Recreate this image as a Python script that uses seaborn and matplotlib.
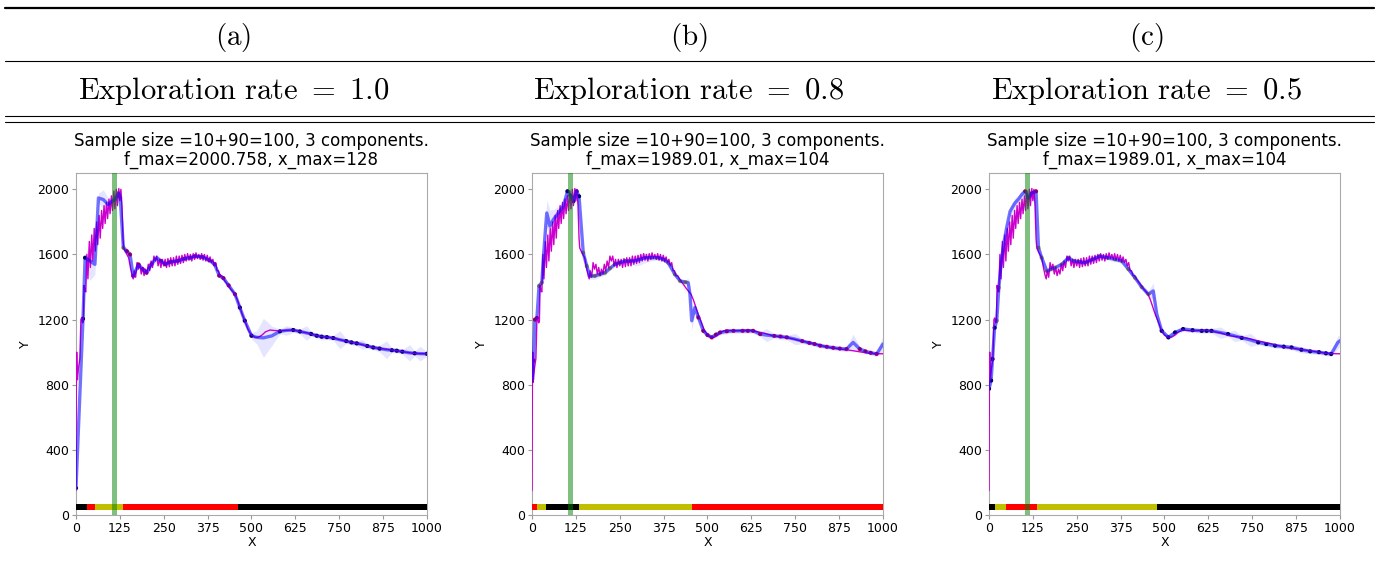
import numpy as np
import pandas as pd
import matplotlib
matplotlib.use("Agg")
import matplotlib.pyplot as plt
import seaborn as sns
from matplotlib.lines import Line2D

# ---------------- data ----------------
# true objective (magenta), shared by the three panels
TRUE_X = [0, 1, 2, 4, 7, 11, 14, 16, 19, 21, 23, 25, 28,
          31, 34, 38, 41, 45, 48, 52, 55, 59, 62, 66, 69, 73, 76, 80, 83, 87, 90,
          94, 97, 101, 104, 108, 111, 115, 118, 122, 125, 128, 131, 134, 136, 140,
          145, 150, 155, 160, 163,
          166, 170, 174, 178, 182, 186, 190, 194, 198, 202, 206, 210, 214, 218, 222,
          226, 230, 234, 238, 242, 246, 250, 254, 258, 262, 266, 270, 274, 278, 282,
          286, 290, 294, 298, 302, 306, 310, 314, 318, 322, 326, 330, 334, 338, 342,
          346, 350, 354, 358, 362, 366, 370, 374, 378, 382, 386, 390, 394, 398, 402,
          406, 410, 415, 420, 430, 440, 453, 460, 467, 474, 481, 490, 500, 510, 520,
          530, 540, 553, 565, 581, 600, 619, 638, 660, 686, 710, 733, 765, 800, 825,
          847, 880, 914, 940, 961, 980, 1000]
TRUE_Y = [150, 800, 1000, 830, 900, 960, 1200, 1210, 1180, 1190, 1410, 1380, 1370,
          1600, 1450, 1680, 1520, 1720, 1560, 1760, 1620, 1800, 1660, 1840, 1700, 1870, 1760, 1900, 1790, 1920, 1820,
          1940, 1850, 1960, 1870, 1990, 1880, 2000, 1900, 2005, 1930, 2000, 1900, 1700, 1640, 1620,
          1600, 1580, 1520, 1470, 1450,
          1500, 1460, 1550, 1510, 1540, 1480, 1520, 1470, 1510, 1480, 1540, 1500, 1560, 1520, 1590,
          1560, 1590, 1530, 1570, 1520, 1570, 1530, 1570, 1520, 1575, 1525, 1580, 1530, 1580, 1530,
          1590, 1540, 1590, 1545, 1595, 1550, 1600, 1560, 1605, 1565, 1600, 1560, 1605, 1570, 1610,
          1575, 1600, 1570, 1605, 1565, 1600, 1560, 1595, 1555, 1585, 1550, 1570, 1530, 1550, 1500,
          1500, 1470, 1470, 1450, 1420, 1390, 1356, 1320, 1274, 1230, 1193, 1140, 1105, 1092, 1092,
          1105, 1125, 1136, 1133, 1131, 1134, 1136, 1127, 1118, 1101, 1094, 1087, 1070, 1054, 1040,
          1029, 1019, 1009, 1000, 993, 991, 990]

# panel (a): GP mean and band half-width
A_X = [0, 20, 26, 40, 54, 64, 78, 92, 102, 111, 121, 126, 135, 145, 154, 163, 178, 190, 201, 215,
       230, 242, 254, 270, 290, 310, 325, 340, 360, 380, 395, 408, 420, 435, 453, 467, 481, 500, 515,
       534, 558, 581, 600, 619, 638, 657, 670, 686, 700, 715, 733, 752, 770, 785, 800, 815, 830, 847,
       865, 885, 900, 914, 930, 951, 965, 980, 1000]
A_Y = [165, 1205, 1580, 1560, 1539, 1947, 1937, 1906, 1927, 1937, 1977, 1950, 1641, 1620, 1600, 1468,
       1539, 1510, 1488, 1540, 1580, 1560, 1540, 1555, 1560, 1575, 1580, 1590, 1585, 1565, 1540, 1470,
       1455, 1410, 1356, 1274, 1193, 1101, 1091, 1088, 1100, 1128, 1134, 1136, 1127, 1118, 1112, 1101,
       1095, 1092, 1087, 1076, 1068, 1060, 1054, 1048, 1038, 1029, 1022, 1015, 1012, 1009, 1003, 996,
       993, 991, 990]
A_SD = [15, 15, 20, 120, 60, 30, 60, 40, 30, 25, 15, 20, 20, 20, 15, 15, 15, 15, 15, 15,
        25, 15, 15, 15, 20, 15, 15, 15, 15, 15, 15, 15, 15, 15, 15, 15, 15, 20, 40,
        120, 60, 15, 30, 15, 15, 45, 15, 15, 20, 15, 15, 55, 15, 15, 15, 30, 15, 15,
        20, 55, 15, 15, 15, 50, 15, 45, 15]

# panel (b)
B_X = [0, 4, 8, 14, 20, 28, 32, 39, 42, 51, 61, 75, 89, 101, 110, 118, 127, 134, 146, 156, 165,
       179, 193, 208, 222, 236, 250, 265, 279, 293, 308, 322, 340, 360, 375, 388, 407, 422, 437,
       445, 450, 455, 464, 474, 488, 500, 512, 524, 536, 555, 574, 600, 615, 630, 650, 668, 690,
       708, 726, 750, 770, 790, 805, 821, 840, 858, 877, 896, 915, 934, 950, 965, 982, 1000]
B_Y = [820, 948, 1200, 1210, 1407, 1427, 1570, 1774, 1855, 1774, 1815, 1855, 1896, 1988, 1960, 1927,
       1988, 1957, 1610, 1529, 1468, 1468, 1478, 1488, 1515, 1539, 1550, 1560, 1560, 1560, 1570, 1580,
       1580, 1580, 1570, 1549, 1478, 1437, 1430, 1427, 1356, 1193, 1274, 1213, 1131, 1105, 1091, 1108,
       1121, 1128, 1131, 1131, 1131, 1131, 1111, 1105, 1100, 1096, 1091, 1080, 1068, 1057, 1050, 1040,
       1033, 1027, 1022, 1019, 1060, 1019, 1005, 996, 989, 1050]
B_SD = [20, 20, 20, 20, 20, 20, 40, 60, 80, 100, 60, 40, 30, 20, 20, 20, 15, 15, 15, 20, 20,
        20, 15, 15, 15, 15, 15, 15, 15, 30, 35, 30, 20, 15, 15, 15, 15, 15, 15,
        25, 45, 60, 30, 15, 15, 15, 15, 15, 15, 15, 15, 15, 15, 15, 15, 40, 15,
        20, 15, 35, 15, 15, 15, 15, 15, 15, 15, 15, 50, 15, 15, 15, 15, 50]

# panel (c)
C_X = [0, 6, 10, 16, 22, 28, 36, 43, 50, 60, 74, 84, 93, 103, 112, 122, 134, 141, 150, 165, 177,
       188, 207, 226, 241, 257, 273, 295, 316, 338, 359, 378, 397, 416, 435, 454, 468, 478, 492,
       511, 530, 553, 580, 606, 620, 634, 660, 681, 700, 720, 745, 767, 790, 815, 840, 862, 890,
       915, 940, 960, 975, 994, 1000]
C_Y = [775, 826, 958, 1150, 1193, 1396, 1580, 1680, 1763, 1865, 1916, 1940, 1967, 1988, 1947, 1977,
       1988, 1641, 1580, 1498, 1510, 1519, 1539, 1580, 1560, 1555, 1549, 1570, 1590, 1580, 1570, 1560,
       1510, 1457, 1400, 1356, 1376, 1234, 1131, 1091, 1121, 1142, 1135, 1131, 1131, 1131, 1120, 1111,
       1100, 1088, 1075, 1060, 1050, 1040, 1034, 1029, 1015, 1005, 1000, 993, 989, 1060, 1070]
C_SD = [20, 20, 20, 20, 20, 20, 25, 30, 30, 30, 30, 25, 25, 20, 20, 15, 15, 20, 20, 15, 15,
        15, 15, 15, 15, 15, 15, 20, 15, 15, 15, 15, 15, 15, 15, 20, 50, 25, 15,
        15, 15, 15, 15, 15, 15, 15, 35, 15, 35, 15, 40, 15, 15, 15, 15, 15, 20,
        15, 15, 15, 15, 40, 30]

# component segments along x (start, end, colour name)
A_SEG = [(0, 31, "black"), (31, 55, "red"), (55, 135, "yellow"), (135, 463, "red"), (463, 1000, "black")]
B_SEG = [(0, 15, "red"), (15, 40, "yellow"), (40, 135, "black"), (135, 456, "yellow"), (456, 1000, "red")]
C_SEG = [(0, 16, "black"), (16, 48, "yellow"), (48, 136, "red"), (136, 480, "yellow"), (480, 1000, "black")]

PANEL_LABELS = ["(a)", "(b)", "(c)"]
RATES = ["1.0", "0.8", "0.5"]
F_MAX = ["2000.758", "1989.01", "1989.01"]
X_MAX = ["128", "104", "104"]
BEST_BAND = (102, 117)

X_TICKS = [0, 125, 250, 375, 500, 625, 750, 875, 1000]
Y_TICKS = [0, 400, 800, 1200, 1600, 2000]

COLORS = {"black": "#000000", "red": "#ff0000", "yellow": "#bfbf00"}

# ---------------- drawing ----------------
sns.set_theme(style="white")
plt.rcParams["font.family"] = ["DejaVu Sans"]
plt.rcParams["mathtext.fontset"] = "cm"
for k in ["text.color", "axes.labelcolor", "xtick.color", "ytick.color"]:
    plt.rcParams[k] = "black"

fig = plt.figure(figsize=(13.79, 5.62), dpi=100)

# table-like header
for y, lw in [(0.9858, 1.6), (0.8915, 0.8), (0.7936, 0.8), (0.7829, 0.8)]:
    fig.add_artist(Line2D([0.0036, 0.9964], [y, y], transform=fig.transFigure,
                          color="black", lw=lw))
head_x = [0.1693, 0.4996, 0.8310]
for hx, lab, rate in zip(head_x, PANEL_LABELS, RATES):
    fig.text(hx, 0.933, r"$(\mathrm{%s})$" % lab[1], ha="center", va="center", fontsize=21)
    fig.text(hx, 0.838, r"$\mathrm{Exploration\ rate}\ =\ %s$" % rate, ha="center",
             va="center", fontsize=22)

panels = [(A_X, A_Y, A_SD, A_SEG), (B_X, B_Y, B_SD, B_SEG), (C_X, C_Y, C_SD, C_SEG)]
lefts = [0.0551, 0.3858, 0.7172]

for i, (mx, my, sd, seg) in enumerate(panels):
    ax = fig.add_axes([lefts[i], 0.0836, 0.2545, 0.6085])
    mx_a = np.array(mx, float)
    my_a = np.array(my, float)
    sd_a = np.array(sd, float)

    ax.fill_between(mx_a, my_a - sd_a, my_a + sd_a, color="#0000ff", alpha=0.1, lw=0, zorder=1)

    # sample points (coloured by component)
    mask = sd_a <= 20
    cols = []
    for xv in mx_a[mask]:
        c = "black"
        for s0, s1, cc in seg:
            if s0 <= xv <= s1:
                c = cc
                break
        cols.append(COLORS[c])
    dots = pd.DataFrame({"x": mx_a[mask], "y": my_a[mask], "c": cols})
    ax.scatter(dots["x"], dots["y"], c=dots["c"], s=9, zorder=2, linewidths=0)

    sns.lineplot(x=TRUE_X, y=TRUE_Y, ax=ax, color="#cc00cc", lw=1.0, sort=False,
                 estimator=None, zorder=3)
    sns.lineplot(x=mx, y=my, ax=ax, color="#0000ff", alpha=0.55, lw=2.4, sort=False,
                 estimator=None, zorder=4)

    for s0, s1, cc in seg:
        ax.barh(y=48, width=s1 - s0, left=s0, height=38, color=COLORS[cc], lw=0, zorder=5)

    ax.axvspan(BEST_BAND[0], BEST_BAND[1], color="#008000", alpha=0.5, lw=0, zorder=6)

    ax.set_xlim(0, 1000)
    ax.set_ylim(0, 2100)
    ax.set_xticks(X_TICKS)
    ax.set_yticks(Y_TICKS)
    ax.tick_params(labelsize=9, length=3, width=0.8, color="#999999", pad=2,
                   bottom=True, left=True)
    for sp in ax.spines.values():
        sp.set_color("#aaaaaa")
        sp.set_linewidth(0.8)
    ax.set_xlabel("X", fontsize=9, labelpad=1)
    ax.set_ylabel("Y", fontsize=9, labelpad=4)
    ax.set_title("Sample size =10+90=100, 3 components.\nf_max=%s, x_max=%s"
                 % (F_MAX[i], X_MAX[i]), fontsize=12, pad=6, linespacing=1.05)

fig.savefig("out.png", dpi=100)
